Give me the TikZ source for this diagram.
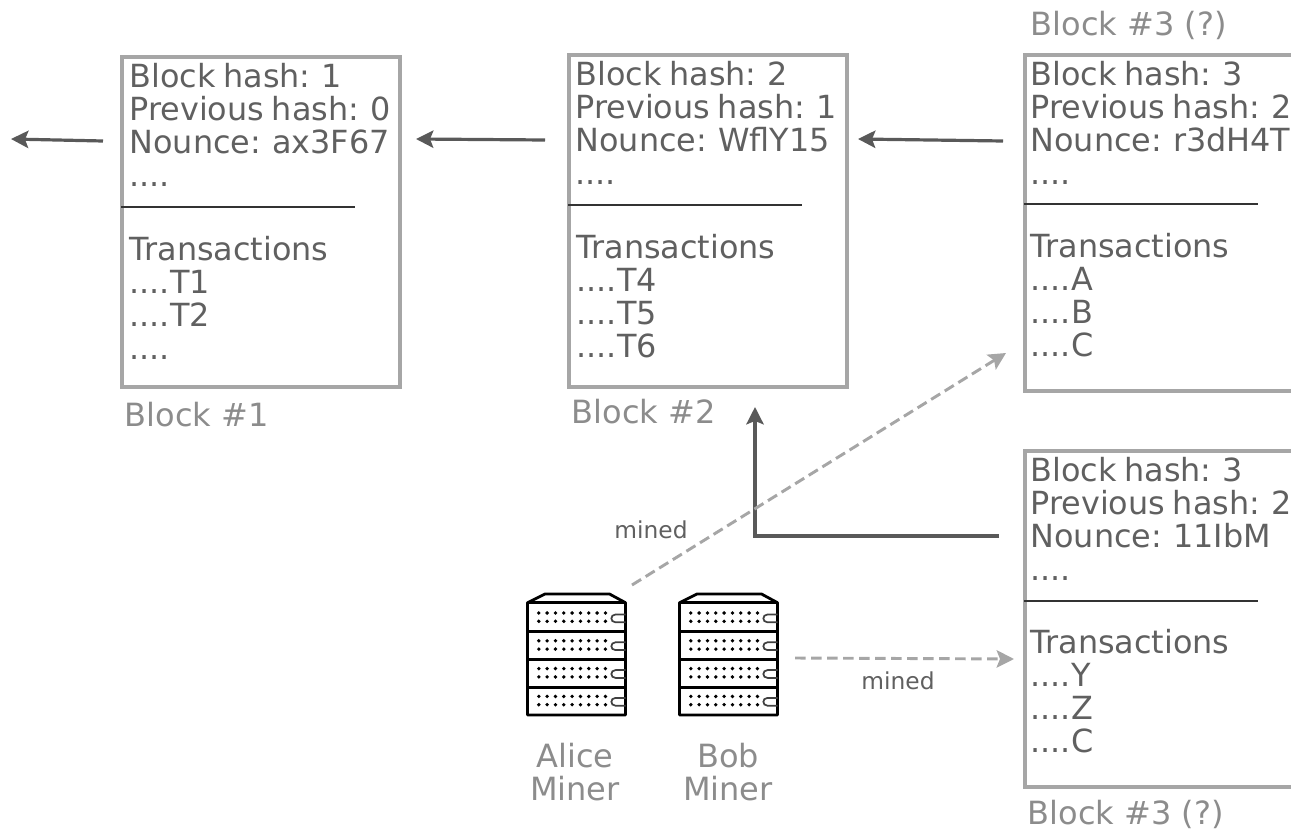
\documentclass[tikz,border=0pt]{standalone}
\usepackage{fontspec}
\setmainfont{DejaVu Sans}[WordSpace=0.75]
\newfontfamily\capfont{DejaVu Sans}
\usetikzlibrary{arrows.meta}
\definecolor{boxgray}{HTML}{A6A6A6}
\definecolor{txtgray}{HTML}{606060}
\definecolor{linegray}{HTML}{595959}
\definecolor{capgray}{HTML}{8C8C8C}
\tikzset{
  blockbox/.style={draw=boxgray,line width=3.2pt,fill=none,inner sep=0pt,anchor=north west},
  blocktext/.style={anchor=north west,inner sep=0pt,align=left,text=txtgray,font=\fontsize{23.9pt}{24.7pt}\selectfont},
  caption/.style={inner sep=0pt,text=capgray,align=center,font=\capfont\fontsize{24pt}{24.7pt}\selectfont},
  minedlabel/.style={inner sep=0pt,text=txtgray,font=\capfont\fontsize{17.5pt}{20pt}\selectfont},
  divider/.style={draw=black!80,line width=1.5pt},
  chain/.style={draw=linegray,line width=2.4pt,-{Stealth[length=13pt,width=13pt,inset=2.5pt]}},
  minedarrow/.style={draw=boxgray,line width=2.2pt,dash pattern=on 8pt off 4pt,-{Stealth[length=13pt,width=13pt,inset=2.5pt]}},
  server/.pic={
    \draw[line width=2.1pt,line join=round,fill=white] (0,8.7) -- (17.5,0) -- (82,0) -- (98,8.7) -- (98,121) -- (0,121) -- cycle;
    \draw[line width=2.1pt] (0,8.7) -- (98,8.7)
      (0,37.7) -- (98,37.7) (0,65.3) -- (98,65.3) (0,93.3) -- (98,93.3);
    \foreach \r in {0,27.8,55.6,83.4}{
      \foreach \c in {0,...,8}{
        \fill (11.3+\c*8.33,19+\r) circle (1.9);
        \fill (11.3+\c*8.33,27.3+\r) circle (1.9);
      }
      \draw[line width=1.3pt,draw=black!75] (98,20.5+\r) -- (88,20.5+\r) .. controls (82.5,20.5+\r) and (82.5,28.3+\r) .. (88,28.3+\r) -- (98,28.3+\r);
    }
  }
}
\begin{document}
\begin{tikzpicture}[x=0.75pt,y=-0.75pt]
\useasboundingbox (0,0) rectangle (1291,831);
\clip (0,0) rectangle (1291,831);
% boxes
\node[blockbox,minimum width=208.5pt,minimum height=247.5pt] (b1) at (120,55) {};
\node[blockbox,minimum width=208.5pt,minimum height=249pt] (b2) at (567,53) {};
\node[blockbox,minimum width=210pt,minimum height=252pt] (b3) at (1023,53) {};
\node[blockbox,minimum width=210pt,minimum height=252pt] (b4) at (1023,449) {};
% block 1
\node[blocktext] (t1a) at (129.3,63.5) {Block hash: 1\\Previous hash: 0\\Nounce: ax3F67\\....};
\node[blocktext] (t1b) at (129.3,236) {Transactions\\....T1\\....T2\\....};
\coordinate (d1a) at (121,207); \coordinate (d1b) at (355,207);
\draw[divider] (d1a) -- (d1b);
% block 2
\node[blocktext] (t2a) at (575.3,61.5) {Block hash: 2\\Previous hash: 1\\Nounce: WflY15\\....};
\node[blocktext] (t2b) at (576.3,234) {Transactions\\....T4\\....T5\\....T6};
\coordinate (d2a) at (568,205); \coordinate (d2b) at (802,205);
\draw[divider] (d2a) -- (d2b);
% block 3 top
\node[blocktext] (t3a) at (1030.3,61.5) {Block hash: 3\\Previous hash: 2\\Nounce: r3dH4T\\....};
\node[blocktext] (t3b) at (1030.3,233.5) {Transactions\\....A\\....B\\....C};
\coordinate (d3a) at (1024,204); \coordinate (d3b) at (1258,204);
\draw[divider] (d3a) -- (d3b);
% block 3 bottom
\node[blocktext] (t4a) at (1030.3,457.5) {Block hash: 3\\Previous hash: 2\\Nounce: 11IbM\\....};
\node[blocktext] (t4b) at (1030.3,629.5) {Transactions\\....Y\\....Z\\....C};
\coordinate (d4a) at (1024,601); \coordinate (d4b) at (1258,601);
\draw[divider] (d4a) -- (d4b);
% captions
\node[caption,anchor=west] (c1) at (124.3,415) {Block \#1};
\node[caption,anchor=west] (c2) at (571.3,412) {Block \#2};
\node[caption,anchor=west] (c3) at (1030.3,25) {Block \#3 (?)};
\node[caption,anchor=west] (c4) at (1027.3,814.5) {Block \#3 (?)};
\node[caption] (alice) at (575,772) {Alice\\Miner};
\node[caption] (bob) at (728,772) {Bob\\Miner};
\node[minedlabel] (m1) at (651,530) {mined};
\node[minedlabel] (m2) at (898,681) {mined};
% servers
\pic at (527.5,594) {server};
\pic at (679.5,594) {server};
% arrows
\coordinate (a1s) at (103,141); \coordinate (a1e) at (11,139);
\coordinate (a2s) at (545,140); \coordinate (a2e) at (416,139);
\coordinate (a3s) at (1003,141); \coordinate (a3e) at (858,139);
\coordinate (a4s) at (999,536); \coordinate (a4m) at (755,536); \coordinate (a4e) at (755,407);
\coordinate (m1s) at (632,585); \coordinate (m1e) at (1006,353);
\coordinate (m2s) at (795,658); \coordinate (m2e) at (1014,659);
\draw[chain] (a1s) -- (a1e);
\draw[chain] (a2s) -- (a2e);
\draw[chain] (a3s) -- (a3e);
\draw[chain] (a4s) -- (a4m) -- (a4e);
\draw[minedarrow] (m1s) -- (m1e);
\draw[minedarrow] (m2s) -- (m2e);
\end{tikzpicture}
\end{document}
